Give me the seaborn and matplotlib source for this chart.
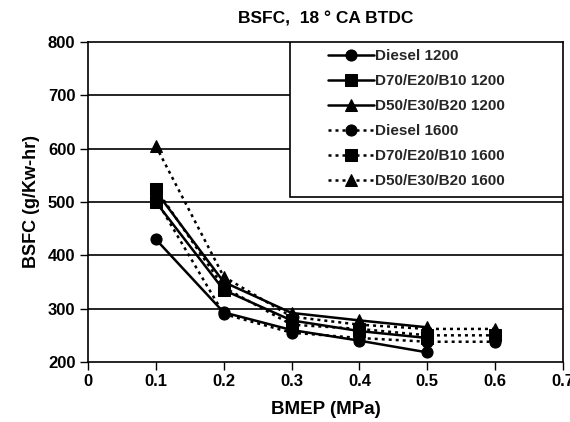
import matplotlib
matplotlib.use("Agg")
import matplotlib.pyplot as plt
from matplotlib.patches import Rectangle
import seaborn as sns
import pandas as pd

sns.set_theme(style="white")
plt.rcParams['font.family'] = ['Liberation Sans', 'DejaVu Sans']
plt.rcParams['font.weight'] = 'bold'

bmep_1200 = [0.1, 0.2, 0.3, 0.4, 0.5]
bmep_1600 = [0.1, 0.2, 0.3, 0.4, 0.5, 0.6]

diesel_1200 = [430, 293, 260, 240, 218]
d70_1200 = [500, 335, 278, 258, 245]
d50_1200 = [520, 350, 292, 278, 265]
diesel_1600 = [505, 290, 255, 245, 238, 238]
d70_1600 = [525, 340, 270, 262, 250, 250]
d50_1600 = [605, 360, 285, 270, 262, 262]

labels = ["Diesel 1200", "D70/E20/B10 1200", "D50/E30/B20 1200",
          "Diesel 1600", "D70/E20/B10 1600", "D50/E30/B20 1600"]

dotted = (0, (1.2, 1.6))
series = [
    (bmep_1200, diesel_1200, 'o', '-'),
    (bmep_1200, d70_1200, 's', '-'),
    (bmep_1200, d50_1200, '^', '-'),
    (bmep_1600, diesel_1600, 'o', dotted),
    (bmep_1600, d70_1600, 's', dotted),
    (bmep_1600, d50_1600, '^', dotted),
]

fig = plt.figure(figsize=(5.7, 4.22), dpi=100)
ax = fig.add_axes([88/570, 1-362/422, (563-88)/570, (362-42)/422])

for (xs, ys, mk, ls), lab in zip(series, labels):
    df = pd.DataFrame({"x": xs, "y": ys})
    sns.lineplot(data=df, x="x", y="y", ax=ax, color='black', marker=mk,
                 markersize=8, linewidth=1.8, linestyle=ls, label=lab,
                 markeredgecolor='black')

ax.set_xlim(0, 0.7)
ax.set_ylim(200, 800)
ax.set_xticks([0, 0.1, 0.2, 0.3, 0.4, 0.5, 0.6, 0.7])
ax.set_xticklabels(["0", "0.1", "0.2", "0.3", "0.4", "0.5", "0.6", "0.7"])
ax.set_yticks([200, 300, 400, 500, 600, 700, 800])
for y in [300, 400, 500, 600, 700]:
    ax.axhline(y, color='black', linewidth=1.2, zorder=0)

ax.tick_params(axis='both', direction='out', length=6, width=1, colors='black',
               labelsize=12, bottom=True, left=True, pad=3)
for t in ax.get_xticklabels() + ax.get_yticklabels():
    t.set_fontweight('bold')
for s in ax.spines.values():
    s.set_color('black')
    s.set_linewidth(1.2)

ax.set_xlabel("BMEP (MPa)", fontsize=13.5, fontweight='bold', color='black', labelpad=8)
ax.set_ylabel("BSFC (g/Kw-hr)", fontsize=13, fontweight='bold', color='black', labelpad=6)
ax.set_title("BSFC,  18 \u00b0 CA BTDC", fontsize=12.5, fontweight='bold', color='black', pad=13)

# legend frame box
x0 = (290-88)/475
y0 = (362-197)/320
ax.add_patch(Rectangle((x0, y0), 1-x0, 1-y0, transform=ax.transAxes,
                       facecolor='white', edgecolor='black', linewidth=1.2, zorder=4))

leg = ax.legend(loc='upper left', bbox_to_anchor=((328-88)/475, 1-7/320), frameon=False,
                fontsize=11, handlelength=3.0, handletextpad=0.1,
                borderaxespad=0, borderpad=0, labelspacing=0.72)
leg.set_zorder(5)
for t in leg.get_texts():
    t.set_fontweight('bold')

fig.savefig("out.png", dpi=100)
